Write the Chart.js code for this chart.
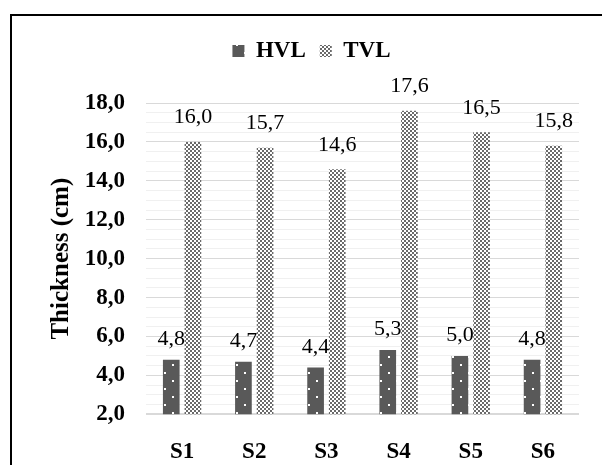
<!DOCTYPE html>
<html>
<head>
<meta charset="utf-8">
<script src="https://cdn.jsdelivr.net/npm/chart.js@4.4.1/dist/chart.umd.min.js"></script>
<style>
  html, body { margin: 0; padding: 0; background: #fff; }
  canvas { display: block; }
</style>
</head>
<body>
<canvas id="myChart" width="602" height="465"></canvas>
<script>
const categories = ['S1', 'S2', 'S3', 'S4', 'S5', 'S6'];
const hvlValues = [4.8, 4.7, 4.4, 5.3, 5.0, 4.8];
const tvlValues = [16.0, 15.7, 14.6, 17.6, 16.5, 15.8];
const seriesNames = ['HVL', 'TVL'];
const yMin = 2;
const yMax = 18;
const yMajorStep = 2;
const yMinorStep = 0.5;

const serif = '"Liberation Serif", "Times New Roman", Times, serif';
const fmt = v => v.toFixed(1).replace('.', ',');

function makePattern(size, draw) {
    const c = document.createElement('canvas');
    c.width = size;
    c.height = size;
    draw(c.getContext('2d'));
    return c.getContext('2d').createPattern(c, 'repeat');
}

// dark grey with sparse white dots
const hvlFill = makePattern(16, g => {
    g.fillStyle = '#595959';
    g.fillRect(0, 0, 16, 16);
    g.fillStyle = '#ffffff';
    g.fillRect(4, 4, 2, 2);
    g.fillRect(12, 12, 2, 2);
});

// small checker board
const tvlFill = makePattern(4, g => {
    g.fillStyle = '#ffffff';
    g.fillRect(0, 0, 4, 4);
    g.fillStyle = '#6a6a6a';
    g.fillRect(0, 0, 2, 2);
    g.fillRect(2, 2, 2, 2);
});

const frame = {
    id: 'frame',
    beforeDraw(chart) {
        const ctx = chart.ctx;
        ctx.save();
        ctx.strokeStyle = '#000';
        ctx.lineWidth = 2;
        ctx.beginPath();
        ctx.moveTo(11, chart.height);
        ctx.lineTo(11, 15);
        ctx.lineTo(chart.width, 15);
        ctx.stroke();
        ctx.restore();
    }
};

const legendFit = {
    id: 'legendFit',
    beforeLayout(chart) {
        const legend = chart.legend;
        if (legend && !legend._patched) {
            const fit = legend.fit;
            legend.fit = function () { fit.call(this); this.height = 77.5; };
            legend._patched = true;
        }
    },
    afterLayout(chart) {
        chart.legend.left += 22;
        chart.legend.right += 22;
    }
};

// distance from bar top to label baseline, per dataset
const labelGap = [15, 18.5];

const barValueLabels = {
    id: 'barValueLabels',
    afterDatasetsDraw(chart) {
        const ctx = chart.ctx;
        ctx.save();
        ctx.font = '22px ' + serif;
        ctx.fillStyle = '#000';
        ctx.textAlign = 'center';
        ctx.textBaseline = 'alphabetic';
        chart.data.datasets.forEach((ds, i) => {
            chart.getDatasetMeta(i).data.forEach((bar, j) => {
                ctx.fillText(fmt(ds.data[j]), bar.x, bar.y - labelGap[i]);
            });
        });
        ctx.restore();
    }
};

const ctx = document.getElementById('myChart');
const myChart = new Chart(ctx, {
    type: 'bar',
    plugins: [frame, legendFit, barValueLabels],
    data: {
        labels: categories,
        datasets: [{
            label: seriesNames[0],
            data: hvlValues,
            backgroundColor: hvlFill,
            borderWidth: 0,
            categoryPercentage: 0.6,
            barPercentage: 0.77
        }, {
            label: seriesNames[1],
            data: tvlValues,
            backgroundColor: tvlFill,
            borderWidth: 0,
            categoryPercentage: 0.6,
            barPercentage: 0.77
        }]
    },
    options: {
        responsive: false,
        animation: false,
        layout: {
            padding: { left: 0, right: 23, top: 25.5, bottom: 0 }
        },
        plugins: {
            legend: {
                position: 'top',
                labels: {
                    boxWidth: 12,
                    boxHeight: 12,
                    padding: 14,
                    color: '#000',
                    font: { family: serif, size: 23, weight: 'bold' }
                }
            },
            tooltip: { enabled: false }
        },
        scales: {
            x: {
                grid: { display: false },
                border: { display: false },
                ticks: {
                    padding: 16,
                    color: '#000',
                    font: { family: serif, size: 23, weight: 'bold' }
                },
                afterFit(scale) { scale.height = 50.7; }
            },
            y: {
                min: yMin,
                max: yMax,
                border: { display: false },
                grid: {
                    drawTicks: false,
                    color: c => (c.tick.value % yMajorStep === 0 ? '#d9d9d9' : '#f0f0f0'),
                    lineWidth: c => (c.tick.value === yMin ? 2 : 1)
                },
                ticks: {
                    stepSize: yMinorStep,
                    autoSkip: false,
                    padding: 21,
                    color: '#000',
                    font: { family: serif, size: 23, weight: 'bold' },
                    callback: v => (v % yMajorStep === 0 ? fmt(v) : '')
                },
                title: {
                    display: true,
                    text: 'Thickness (cm)',
                    color: '#000',
                    padding: { top: 47, bottom: 0 },
                    font: { family: serif, size: 25, weight: 'bold' }
                },
                afterFit(scale) { scale.width = 146; }
            }
        }
    }
});
</script>
</body>
</html>
